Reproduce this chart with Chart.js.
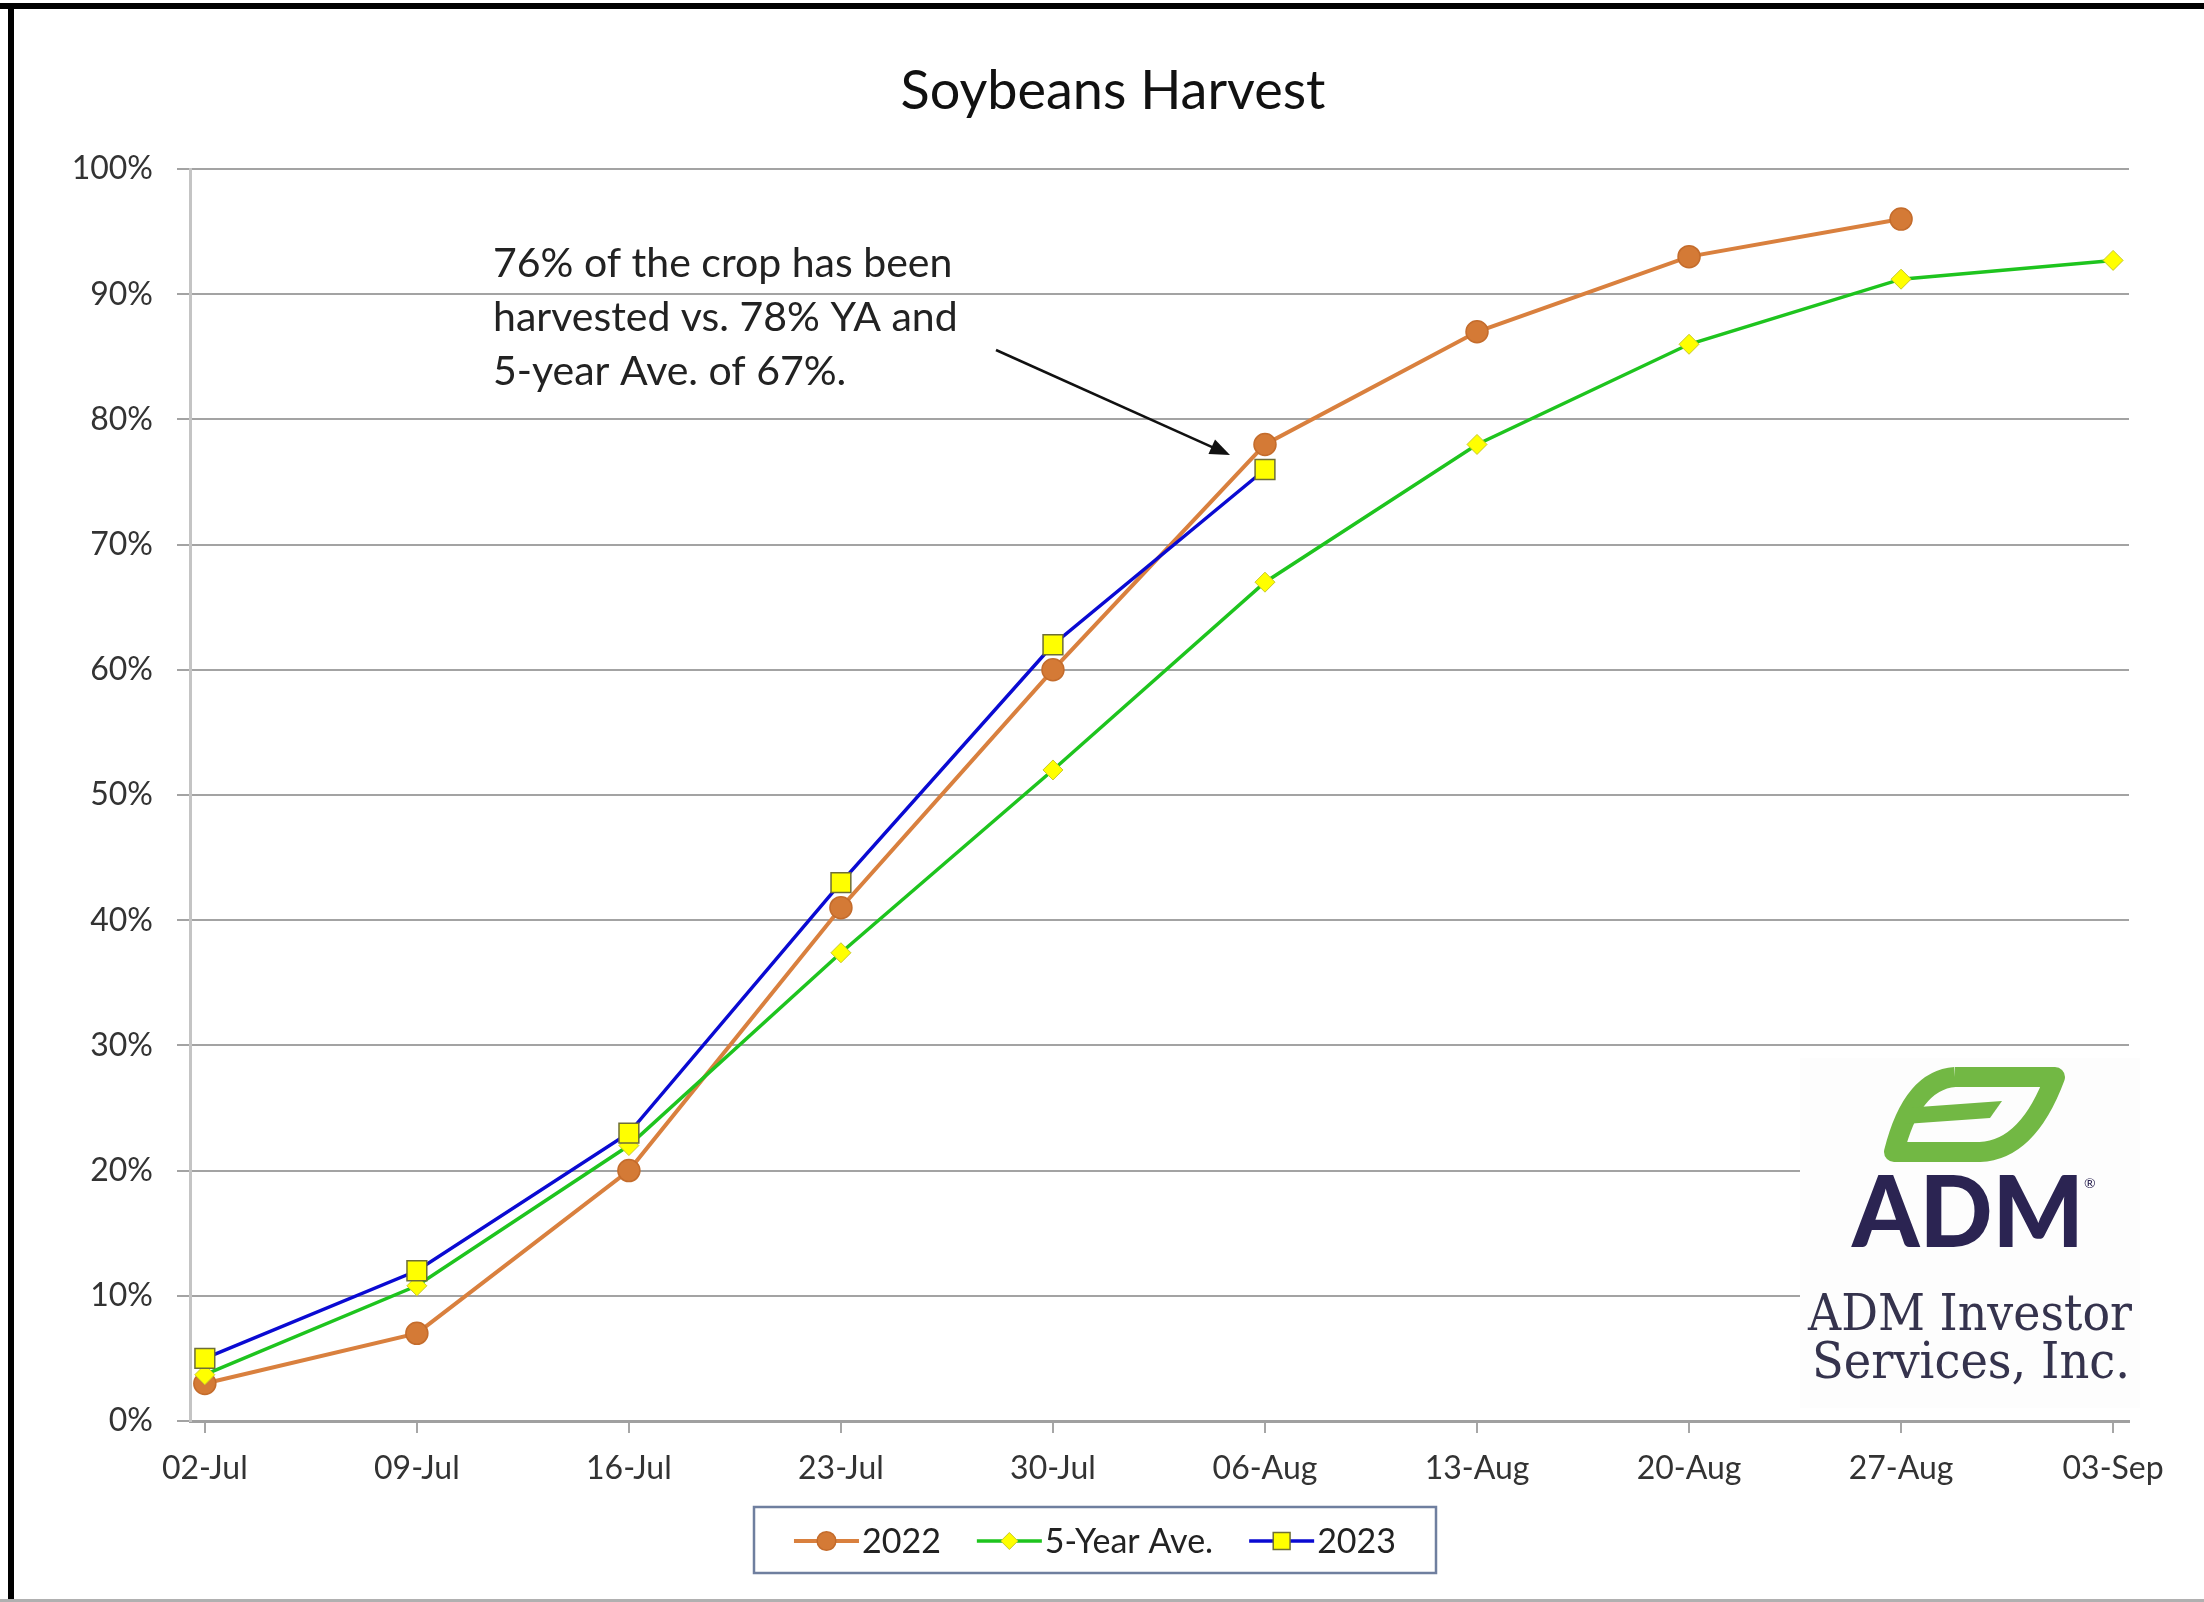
<!DOCTYPE html>
<html>
<head>
<meta charset="utf-8">
<script src="https://cdn.jsdelivr.net/npm/chart.js@4.4.1/dist/chart.umd.min.js"></script>
<style>
  html, body { margin: 0; padding: 0; background: #fff; }
  #wrap { width: 2204px; height: 1602px; position: relative; }
</style>
</head>
<body>
<div id="wrap"><canvas id="harvest"></canvas></div>
<script>
// ===== DATA =====
const weekLabels  = ['02-Jul', '09-Jul', '16-Jul', '23-Jul', '30-Jul', '06-Aug', '13-Aug', '20-Aug', '27-Aug', '03-Sep'];
const harvest2022 = [3, 7, 20, 41, 60, 78, 87, 93, 96, null];
const fiveYearAve = [3.7, 10.8, 22, 37.4, 52, 67, 78, 86, 91.2, 92.7];
const harvest2023 = [5, 12, 23, 43, 62, 76];
const seriesNames = ['2022', '5-Year Ave.', '2023'];
const chartTitle  = 'Soybeans Harvest';
const noteLines   = ['76% of the crop has been', 'harvested vs. 78% YA and', '5-year Ave. of 67%.'];

const FONT = 'Lato, "Noto Sans", sans-serif';

function toPoints(values) {
  return values.map((v, i) => ({ x: i, y: v })).filter(p => p.y !== null);
}

// ===== DECORATION PLUGIN =====
const decor = {
  id: 'decor',
  beforeDraw(chart) {
    const ctx = chart.ctx;
    ctx.save();
    ctx.fillStyle = '#fff';
    ctx.fillRect(0, 0, chart.width, chart.height);
    ctx.restore();
  },
  afterDraw(chart) {
    const ctx = chart.ctx;
    ctx.save();

    // title
    ctx.fillStyle = '#111';
    ctx.font = '54px ' + FONT;
    ctx.textAlign = 'center';
    ctx.textBaseline = 'alphabetic';
    ctx.fillText(chartTitle, 1113, 109);

    // note + arrow
    ctx.font = '41px ' + FONT;
    ctx.textAlign = 'left';
    ctx.fillStyle = '#222';
    noteLines.forEach((t, i) => ctx.fillText(t, 493, 277 + i * 54));
    drawArrow(ctx, 996, 350, 1230, 455);

    drawLogo(ctx);
    drawLegend(chart);

    // frame
    ctx.fillStyle = '#000';
    ctx.fillRect(0, 3, chart.width, 6);
    ctx.fillRect(8, 3, 6, chart.height);
    ctx.fillStyle = '#b0b0b0';
    ctx.fillRect(0, 1599, chart.width, 3);
    ctx.restore();
  }
};

function drawArrow(ctx, x1, y1, x2, y2) {
  const ang = Math.atan2(y2 - y1, x2 - x1);
  ctx.strokeStyle = '#111';
  ctx.fillStyle = '#111';
  ctx.lineWidth = 2.5;
  ctx.beginPath();
  ctx.moveTo(x1, y1);
  ctx.lineTo(x2 - 14 * Math.cos(ang), y2 - 14 * Math.sin(ang));
  ctx.stroke();
  ctx.beginPath();
  ctx.moveTo(x2, y2);
  ctx.lineTo(x2 - 20 * Math.cos(ang) + 8 * Math.sin(ang), y2 - 20 * Math.sin(ang) - 8 * Math.cos(ang));
  ctx.lineTo(x2 - 20 * Math.cos(ang) - 8 * Math.sin(ang), y2 - 20 * Math.sin(ang) + 8 * Math.cos(ang));
  ctx.closePath();
  ctx.fill();
}

function drawLogo(ctx) {
  ctx.save();
  ctx.fillStyle = '#fdfdfd';
  ctx.fillRect(1800, 1058, 340, 350);

  // leaf
  ctx.strokeStyle = '#72b844';
  ctx.fillStyle = '#72b844';
  ctx.lineWidth = 20;
  ctx.lineJoin = 'round';
  ctx.beginPath();
  ctx.moveTo(1955, 1077);
  ctx.lineTo(2055, 1077);
  ctx.quadraticCurveTo(2028, 1150, 1980, 1152);
  ctx.lineTo(1894, 1152);
  ctx.quadraticCurveTo(1912, 1080, 1955, 1077);
  ctx.stroke();
  ctx.beginPath();
  ctx.moveTo(1905, 1108);
  ctx.lineTo(2002, 1101);
  ctx.lineTo(1990, 1118);
  ctx.lineTo(1905, 1124);
  ctx.closePath();
  ctx.fill();

  // wordmark
  ctx.fillStyle = '#2b2452';
  ctx.font = '900 100px ' + FONT;
  ctx.textAlign = 'left';
  ctx.textBaseline = 'alphabetic';
  ctx.fillText('ADM', 1852, 1247, 232);
  ctx.font = '14px ' + FONT;
  ctx.fillText('®', 2084, 1188);

  ctx.fillStyle = '#35334d';
  ctx.font = '50px "DejaVu Serif", "Liberation Serif", serif';
  ctx.fillText('ADM Investor', 1808, 1330, 324);
  ctx.fillText('Services, Inc.', 1812, 1378, 318);
  ctx.restore();
}

function drawLegend(chart) {
  const ctx = chart.ctx;
  const sets = chart.data.datasets;
  const cy = 1541, lineLen = 65, gap = 36;
  ctx.save();
  ctx.font = '34px ' + FONT;
  const widths = sets.map(ds => lineLen + 3 + ctx.measureText(ds.label).width);
  const total = widths.reduce((a, b) => a + b, 0) + gap * (sets.length - 1);
  const boxL = 754, boxR = 1436;
  let x = (boxL + boxR) / 2 - total / 2;

  ctx.strokeStyle = '#6f7f9f';
  ctx.lineWidth = 2.5;
  ctx.strokeRect(boxL, 1507, boxR - boxL, 66);

  sets.forEach((ds, i) => {
    ctx.strokeStyle = ds.borderColor;
    ctx.lineWidth = ds.borderWidth;
    ctx.beginPath();
    ctx.moveTo(x, cy);
    ctx.lineTo(x + lineLen, cy);
    ctx.stroke();
    ctx.fillStyle = ds.pointBackgroundColor;
    ctx.strokeStyle = ds.pointBorderColor;
    ctx.lineWidth = ds.pointBorderWidth;
    ctx.beginPath();
    drawMarkerPath(ctx, ds.pointStyle, ds.pointRadius * 0.85, x + lineLen / 2, cy);
    ctx.fill();
    ctx.stroke();
    ctx.fillStyle = '#222';
    ctx.textAlign = 'left';
    ctx.textBaseline = 'middle';
    ctx.fillText(ds.label, x + lineLen + 3, cy + 1);
    x += widths[i] + gap;
  });
  ctx.restore();
}

function drawMarkerPath(ctx, style, r, x, y) {
  if (style === 'circle') {
    ctx.arc(x, y, r, 0, Math.PI * 2);
  } else if (style === 'rect') {
    const s = r * Math.SQRT1_2;
    ctx.rect(x - s, y - s, 2 * s, 2 * s);
  } else {
    ctx.moveTo(x, y - r);
    ctx.lineTo(x + r, y);
    ctx.lineTo(x, y + r);
    ctx.lineTo(x - r, y);
    ctx.closePath();
  }
}

// ===== CHART =====
new Chart(document.getElementById('harvest'), {
  type: 'line',
  data: {
    datasets: [
      {
        label: seriesNames[0],
        data: toPoints(harvest2022),
        borderColor: '#d9803e',
        backgroundColor: '#d9803e',
        borderWidth: 4,
        pointStyle: 'circle',
        pointRadius: 11,
        pointBackgroundColor: '#d47a36',
        pointBorderColor: '#c46c2c',
        pointBorderWidth: 1.5,
        order: 3,
      },
      {
        label: seriesNames[1],
        data: toPoints(fiveYearAve),
        borderColor: '#1ec41e',
        backgroundColor: '#1ec41e',
        borderWidth: 3.5,
        pointStyle: 'rectRot',
        pointRadius: 10,
        pointBackgroundColor: '#ffff00',
        pointBorderColor: '#c9c92a',
        pointBorderWidth: 1,
        order: 2,
      },
      {
        label: seriesNames[2],
        data: toPoints(harvest2023),
        borderColor: '#0a0ad2',
        backgroundColor: '#0a0ad2',
        borderWidth: 3.5,
        pointStyle: 'rect',
        pointRadius: 14,
        pointBackgroundColor: '#ffff00',
        pointBorderColor: '#6e6e36',
        pointBorderWidth: 1.5,
        order: 1,
      }
    ]
  },
  options: {
    responsive: true,
    maintainAspectRatio: false,
    animation: false,
    layout: { padding: { top: 169, left: 0, right: 75, bottom: 81 } },
    plugins: {
      legend: { display: false },
      title: { display: false },
      tooltip: { enabled: false }
    },
    scales: {
      x: {
        type: 'linear',
        min: -0.07,
        max: 9.075,
        afterFit: s => { s.height = 100; },
        afterBuildTicks: s => { s.ticks = weekLabels.map((_, i) => ({ value: i })); },
        ticks: {
          callback: v => weekLabels[v],
          autoSkip: false,
          maxRotation: 0,
          font: { family: FONT, size: 32 },
          color: '#333',
          padding: 16,
        },
        grid: {
          drawOnChartArea: false,
          drawTicks: true,
          tickLength: 12,
          color: '#a6a6a6',
          lineWidth: 2,
        },
        border: { color: '#a0a0a0', width: 3 }
      },
      y: {
        min: 0,
        max: 100,
        afterFit: s => { s.width = 190; },
        ticks: {
          stepSize: 10,
          callback: v => v + '%',
          font: { family: FONT, size: 32 },
          color: '#333',
          padding: 24,
        },
        grid: {
          color: '#a3a3a3',
          lineWidth: 2,
          tickLength: 13,
          drawTicks: true,
        },
        border: { color: '#c4c4c4', width: 3 }
      }
    }
  },
  plugins: [decor]
});
</script>
</body>
</html>
